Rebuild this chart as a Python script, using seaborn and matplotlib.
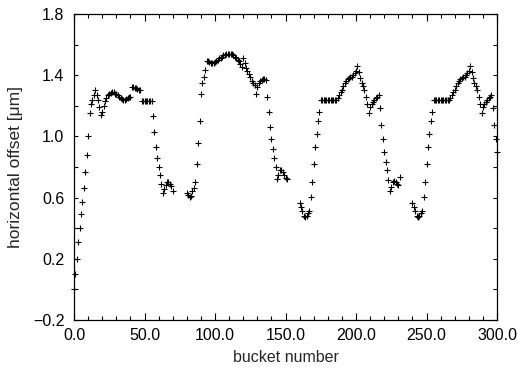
import numpy as np
import pandas as pd
import matplotlib
matplotlib.use("Agg")
import matplotlib.pyplot as plt
import seaborn as sns
from matplotlib.ticker import MultipleLocator, FixedLocator, FuncFormatter

# Horizontal offset per bucket; each run starts at the bucket given in run_starts
run_starts = [0, 80, 160, 240]

run_a = [0.00, 0.10, 0.20, 0.31, 0.40, 0.49, 0.57, 0.66, 0.77, 0.88,
         1.00, 1.15, 1.21, 1.24, 1.27, 1.30, 1.27, 1.24, 1.19, 1.14,
         1.16, 1.20, 1.23, 1.25, 1.27, 1.28, 1.285, 1.288, 1.287, 1.28,
         1.275, 1.27, 1.26, 1.25, 1.245, 1.24, 1.24, 1.245, 1.25, 1.255,
         1.26, 1.32, 1.32, 1.318, 1.315, 1.31, 1.305, 1.30, 1.23, 1.23,
         1.23, 1.23, 1.23, 1.23, 1.23, 1.23, 1.13, 1.03, 0.93, 0.86,
         0.80, 0.745, 0.69, 0.63, 0.655, 0.68, 0.70, 0.70, 0.69, 0.675,
         0.64]

run_b = [0.63, 0.615, 0.605, 0.61, 0.64, 0.66, 0.70, 0.82, 0.96, 1.10,
         1.275, 1.35, 1.39, 1.435, 1.49, 1.49, 1.485, 1.48, 1.48, 1.48,
         1.485, 1.49, 1.50, 1.51, 1.515, 1.52, 1.53, 1.535, 1.54, 1.54,
         1.54, 1.54, 1.54, 1.535, 1.52, 1.51, 1.50, 1.49, 1.47, 1.455,
         1.51, 1.48, 1.45, 1.43, 1.41, 1.39, 1.365, 1.35, 1.335, 1.28,
         1.32, 1.35, 1.36, 1.37, 1.375, 1.375, 1.37, 1.26, 1.16, 1.06,
         0.985, 0.92, 0.86, 0.80, 0.72, 0.75, 0.78, 0.78, 0.77, 0.75,
         0.73, 0.72]

run_c = [0.565, 0.54, 0.51, 0.48, 0.475, 0.48, 0.50, 0.51, 0.605, 0.705,
         0.82, 0.93, 1.015, 1.10, 1.16, 1.235, 1.235, 1.235, 1.235, 1.235,
         1.235, 1.235, 1.235, 1.235, 1.235, 1.235, 1.235, 1.25, 1.27, 1.29,
         1.305, 1.33, 1.35, 1.365, 1.375, 1.38, 1.385, 1.39, 1.40, 1.415,
         1.43, 1.46, 1.42, 1.38, 1.35, 1.33, 1.30, 1.26, 1.21, 1.15,
         1.19, 1.21, 1.225, 1.24, 1.25, 1.26, 1.27, 1.185, 1.075, 0.98,
         0.90, 0.835, 0.78, 0.715, 0.64, 0.67, 0.70, 0.71, 0.705, 0.69,
         0.685, 0.735]

run_d = [0.565, 0.54, 0.51, 0.48, 0.475, 0.48, 0.50, 0.51, 0.605, 0.705,
         0.82, 0.93, 1.015, 1.10, 1.16, 1.235, 1.235, 1.235, 1.235, 1.235,
         1.235, 1.235, 1.235, 1.235, 1.235, 1.235, 1.235, 1.25, 1.27, 1.29,
         1.305, 1.33, 1.35, 1.365, 1.375, 1.38, 1.385, 1.39, 1.40, 1.415,
         1.43, 1.46, 1.42, 1.38, 1.35, 1.33, 1.30, 1.26, 1.21, 1.15,
         1.19, 1.21, 1.225, 1.24, 1.25, 1.26, 1.27, 1.185, 1.075, 0.98,
         0.90]

x_ticks = [0, 50, 100, 150, 200, 250, 300]
y_ticks = [-0.2, 0.2, 0.6, 1.0, 1.4, 1.8]

frames = []
for start, vals in zip(run_starts, [run_a, run_b, run_c, run_d]):
    frames.append(pd.DataFrame({"bucket": np.arange(start, start + len(vals)),
                                "offset": vals}))
df = pd.concat(frames, ignore_index=True)

sns.set_theme(style="ticks")
plt.rcParams["font.family"] = ["Liberation Sans", "DejaVu Sans"]

fig = plt.figure(figsize=(5.18, 3.71), dpi=100)
ax = fig.add_axes([0.1429, 0.1375, 0.8166, 0.8248])

sns.scatterplot(data=df, x="bucket", y="offset", marker="+", color="black",
                s=16, linewidth=0.8, ax=ax, legend=False)
for coll in ax.collections:
    coll.set_clip_on(False)

ax.set_xlim(0, 300)
ax.set_ylim(-0.2, 1.8)
ax.xaxis.set_major_locator(FixedLocator(x_ticks))
ax.xaxis.set_minor_locator(MultipleLocator(10))
ax.yaxis.set_major_locator(FixedLocator(y_ticks))
ax.yaxis.set_minor_locator(FixedLocator([0.0, 0.4, 0.8, 1.2, 1.6]))

fmt = FuncFormatter(lambda v, p: f"{v:.1f}".replace("-", "\u2212"))
ax.xaxis.set_major_formatter(fmt)
ax.yaxis.set_major_formatter(fmt)

ax.tick_params(which="both", direction="in", top=True, right=True,
               width=0.8, color="black", labelsize=11.5, labelcolor="black")
ax.tick_params(axis="x", which="major", length=5, pad=6)
ax.tick_params(axis="x", which="minor", length=3)
ax.tick_params(axis="y", which="both", length=3, pad=7)

for sp in ax.spines.values():
    sp.set_visible(True)
    sp.set_linewidth(0.9)
    sp.set_color("black")

ax.set_xlabel("bucket number", fontsize=11.5, labelpad=5)
ax.set_ylabel("horizontal offset [\u03bcm]", fontsize=12.5, labelpad=7)

fig.savefig("out.png", dpi=100)
